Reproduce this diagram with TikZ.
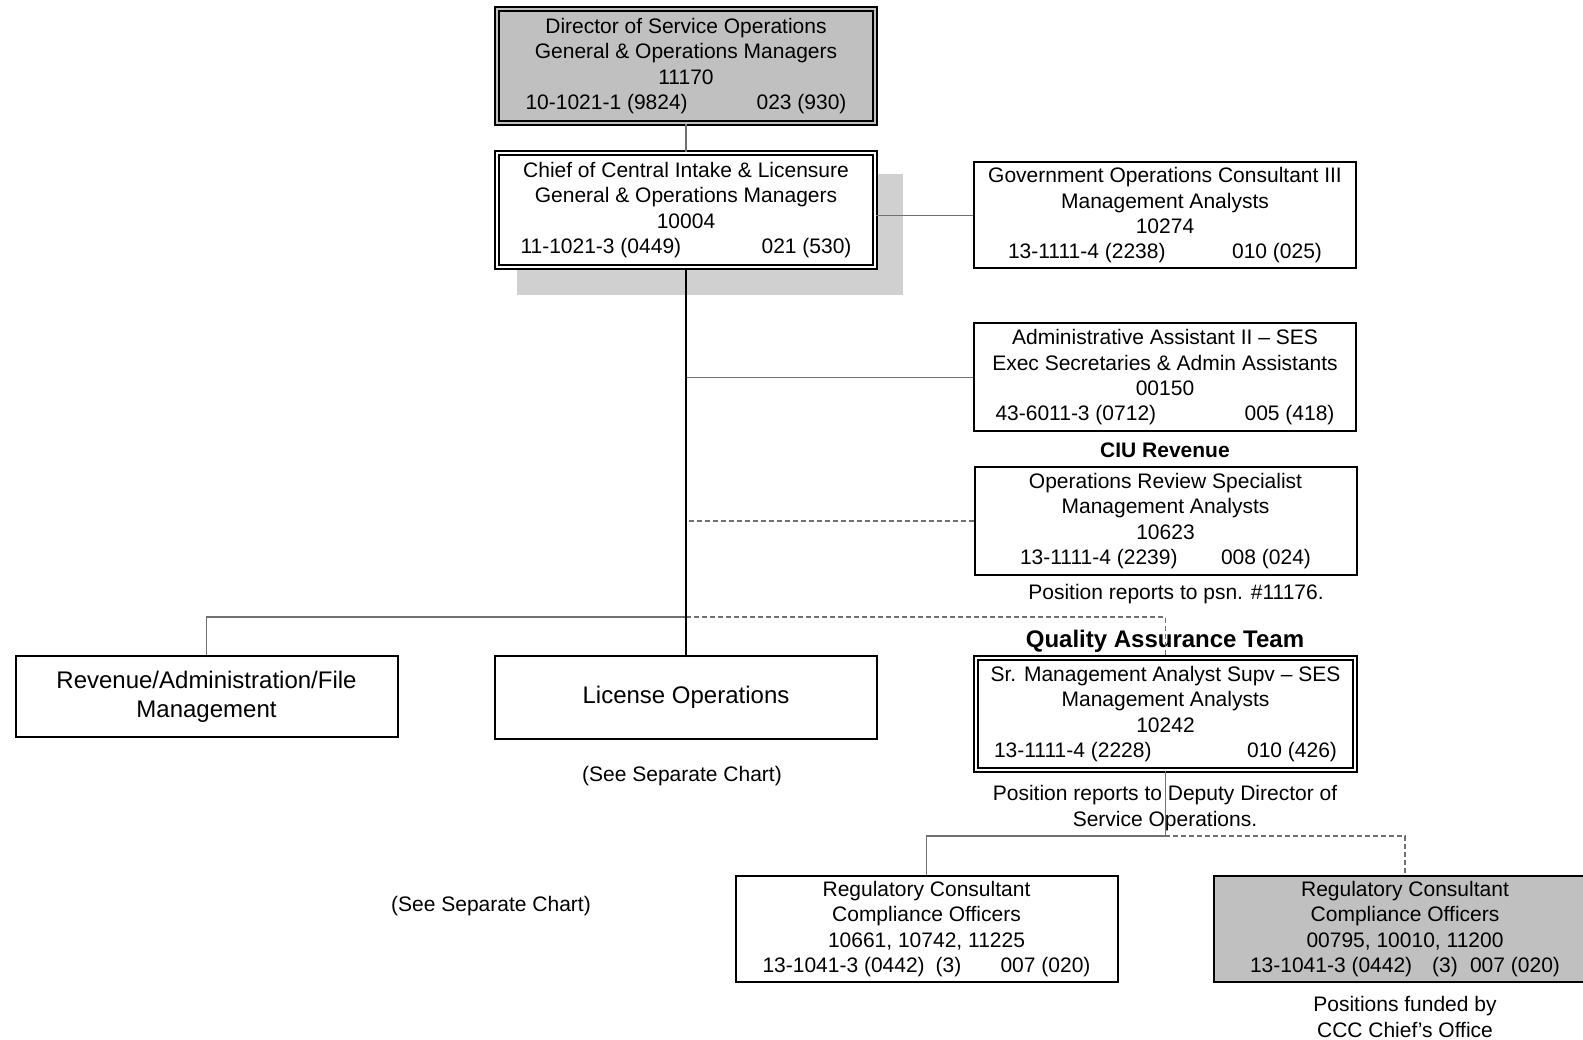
\documentclass[tikz,border=0pt]{standalone}
\usepackage{fontspec}
\setmainfont{Liberation Sans}
\definecolor{boxgray}{RGB}{192,192,192}
\definecolor{shadegray}{RGB}{208,208,208}
\definecolor{linegray}{RGB}{112,112,112}
\newcommand{\coderow}[3]{\makebox[#1]{#2\hfill#3}}

\begin{document}
\begin{tikzpicture}[x=1pt,y=-1pt,
  txt/.style={font=\fontsize{21}{25.3}\selectfont, align=center, inner sep=0pt},
  bigtxt/.style={font=\fontsize{24}{29.3}\selectfont, align=center, inner sep=0pt},
  post/.style={txt, draw, line width=2pt, minimum width=382pt, minimum height=106pt},
  dblpost/.style={txt, draw, line width=2pt, double, double distance=2pt,
    minimum width=378pt, minimum height=114pt},
  unit/.style={bigtxt, draw, line width=2pt, minimum width=382pt, minimum height=81pt},
  head/.style={font=\fontsize{21}{25.3}\selectfont\bfseries, inner sep=0pt},
  link/.style={draw=linegray, line width=1.4pt},
  dline/.style={link, dash pattern=on 5pt off 3pt},
  trunk/.style={draw=black, line width=1.8pt}]
  \useasboundingbox (0,0) rectangle (1583,1040);
  \clip (0,0) rectangle (1583,1040);
  \fill[shadegray] (517,174) rectangle (903,295);
  \node[dblpost, fill=boxgray, double=boxgray] (dir) at (686,66)
    {Director of Service Operations\\General \& Operations Managers\\11170\\
     \coderow{321pt}{10-1021-1 (9824)}{023 (930)}};
  \node[dblpost, fill=white] (chief) at (686,210)
    {Chief of Central Intake \& Licensure\\General \& Operations Managers\\10004\\
     \coderow{331pt}{11-1021-3 (0449)}{021 (530)}};
  \node[post] (gov) at (1165,215.5)
    {Government Operations Consultant III\\Management Analysts\\10274\\
     \coderow{314pt}{13-1111-4 (2238)}{010 (025)}};
  \node[post, minimum height=108pt] (admin) at (1165,377.5)
    {Administrative Assistant II \textendash{} SES\\Exec Secretaries \& Admin Assistants\\00150\\
     \coderow{339pt}{43-6011-3 (0712)}{005 (418)}};
  \node[head] (ciu) at (1165,450) {CIU Revenue};
  \node[post, minimum height=107pt] (ops) at (1165.5,521)
    {Operations Review Specialist\\Management Analysts\\10623\\
     \coderow{291pt}{13-1111-4 (2239)}{008 (024)}};
  \node[txt] (opsnote) at (1176,594) {Position reports to psn. \#11176.};
  \node[head, font=\fontsize{24}{29.3}\selectfont\bfseries] (qatitle) at (1165,641) {Quality Assurance Team};
  \node[dblpost, fill=white, minimum width=379pt, minimum height=112pt] (qa) at (1165.5,714)
    {Sr. Management Analyst Supv \textendash{} SES\\Management Analysts\\10242\\
     \coderow{343pt}{13-1111-4 (2228)}{010 (426)}};
  \node[txt] (qanote) at (1165,808) {Position reports to Deputy Director of\\Service Operations.};
  \node[unit] (rev) at (206.5,696.5) {Revenue/Administration/File\\Management};
  \node[unit, minimum height=83pt] (lic) at (686,697) {License Operations};
  \node[txt] (see1) at (682,776) {(See Separate Chart)};
  \node[txt] (see2) at (491,906) {(See Separate Chart)};
  \node[post] (reg1) at (926.5,929)
    {Regulatory Consultant\\Compliance Officers\\10661, 10742, 11225\\
     \coderow{328pt}{13-1041-3 (0442)\hspace{11pt}(3)}{007 (020)}};
  \node[post, fill=boxgray] (reg2) at (1405,929)
    {Regulatory Consultant\\Compliance Officers\\00795, 10010, 11200\\
     \coderow{310pt}{13-1041-3 (0442)\hspace{20pt}(3)}{007 (020)}};
  \node[txt] (fundnote) at (1405,1017) {Positions funded by\\CCC Chief's Office};
  \coordinate (split) at (686,617);
  \coordinate (qasplit) at (1165,836);
  \draw[link] (dir) -- (chief);
  \draw[link] (gov.west) -- (gov.west -| chief.east);
  \draw[link] (admin.west) -- (admin.west -| chief.south);
  \draw[dline] (ops.west) -- (ops.west -| chief.south);
  \draw[link] (split) -| (rev.north);
  \draw[dline] (split) -| (qa.north);
  \draw[trunk] (chief) -- (lic);
  \draw[link] (qa.south) -- (qa.south |- qasplit);
  \draw[link] (qasplit) -| (reg1.north);
  \draw[dline] (qasplit) -| (reg2.north);
\end{tikzpicture}
\end{document}
